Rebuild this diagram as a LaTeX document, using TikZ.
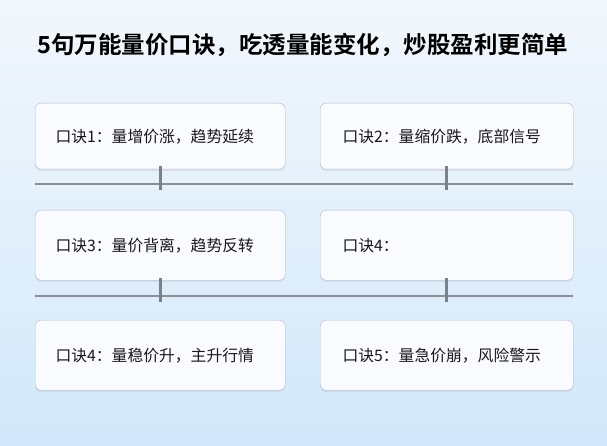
\documentclass[tikz,border=0pt]{standalone}
\usepackage{fontspec}
\setmainfont{Noto Sans CJK SC}
\newfontfamily\cjkb{Noto Sans CJK SC Bold}
\usetikzlibrary{shadows}
\definecolor{bgtop}{HTML}{F2F7FC}
\definecolor{bgbot}{HTML}{D2E8FA}
\definecolor{boxfill}{HTML}{F9FBFE}
\definecolor{linec}{HTML}{8A8F96}
\tikzset{
  card/.style={draw=white!85!blue!60!gray, line width=0.4pt, fill=boxfill, rounded corners=6pt,
    minimum width=250pt, minimum height=66pt, anchor=north west,
    drop shadow={shadow xshift=0pt, shadow yshift=-2pt, opacity=0.12}},
  lbl/.style={font=\fontsize{15.8pt}{18pt}\selectfont, text=black!90, anchor=west},
  axis/.style={draw=linec, line width=1.3pt},
  tick/.style={draw=linec!90!black, line width=3pt}
}
\begin{document}
\begin{tikzpicture}[x=1pt,y=-1pt]
\useasboundingbox (0,0) rectangle (607,446);
\shade[top color=bgtop, bottom color=bgbot] (0,0) rectangle (607,446);
\node[font=\cjkb\fontsize{23.5pt}{27pt}\selectfont] (title) at (303,45) {5句万能量价口诀，吃透量能变化，炒股盈利更简单};
\node[card] (b1) at (35,103) {};
\node[card, minimum width=253pt] (b2) at (320,103) {};
\node[card, minimum height=70pt] (b3) at (35,210) {};
\node[card, minimum width=253pt, minimum height=70pt] (b4) at (320,210) {};
\node[card, minimum height=70pt] (b5) at (35,320) {};
\node[card, minimum width=253pt, minimum height=70pt] (b6) at (320,320) {};
\node[lbl] (t1) at ([xshift=17pt]b1.west) {口诀1：量增价涨，趋势延续};
\node[lbl] (t2) at ([xshift=19pt]b2.west) {口诀2：量缩价跌，底部信号};
\node[lbl] (t3) at ([xshift=17pt]b3.west) {口诀3：量价背离，趋势反转};
\node[lbl] (t4) at ([xshift=19pt]b4.west) {口诀4：};
\node[lbl] (t5) at ([xshift=17pt]b5.west) {口诀4：量稳价升，主升行情};
\node[lbl] (t6) at ([xshift=19pt]b6.west) {口诀5：量急价崩，风险警示};
\coordinate (l1a) at (35,184); \coordinate (l1b) at (573,184);
\coordinate (l2a) at (35,296); \coordinate (l2b) at (573,296);
\draw[axis] (l1a) -- (l1b);
\draw[axis] (l2a) -- (l2b);
\coordinate (k1a) at (160,166); \coordinate (k1b) at (160,190);
\coordinate (k2a) at (446,166); \coordinate (k2b) at (446,190);
\coordinate (k3a) at (160,278); \coordinate (k3b) at (160,302);
\coordinate (k4a) at (446,278); \coordinate (k4b) at (446,302);
\draw[tick] (k1a) -- (k1b);
\draw[tick] (k2a) -- (k2b);
\draw[tick] (k3a) -- (k3b);
\draw[tick] (k4a) -- (k4b);
\end{tikzpicture}
\end{document}
